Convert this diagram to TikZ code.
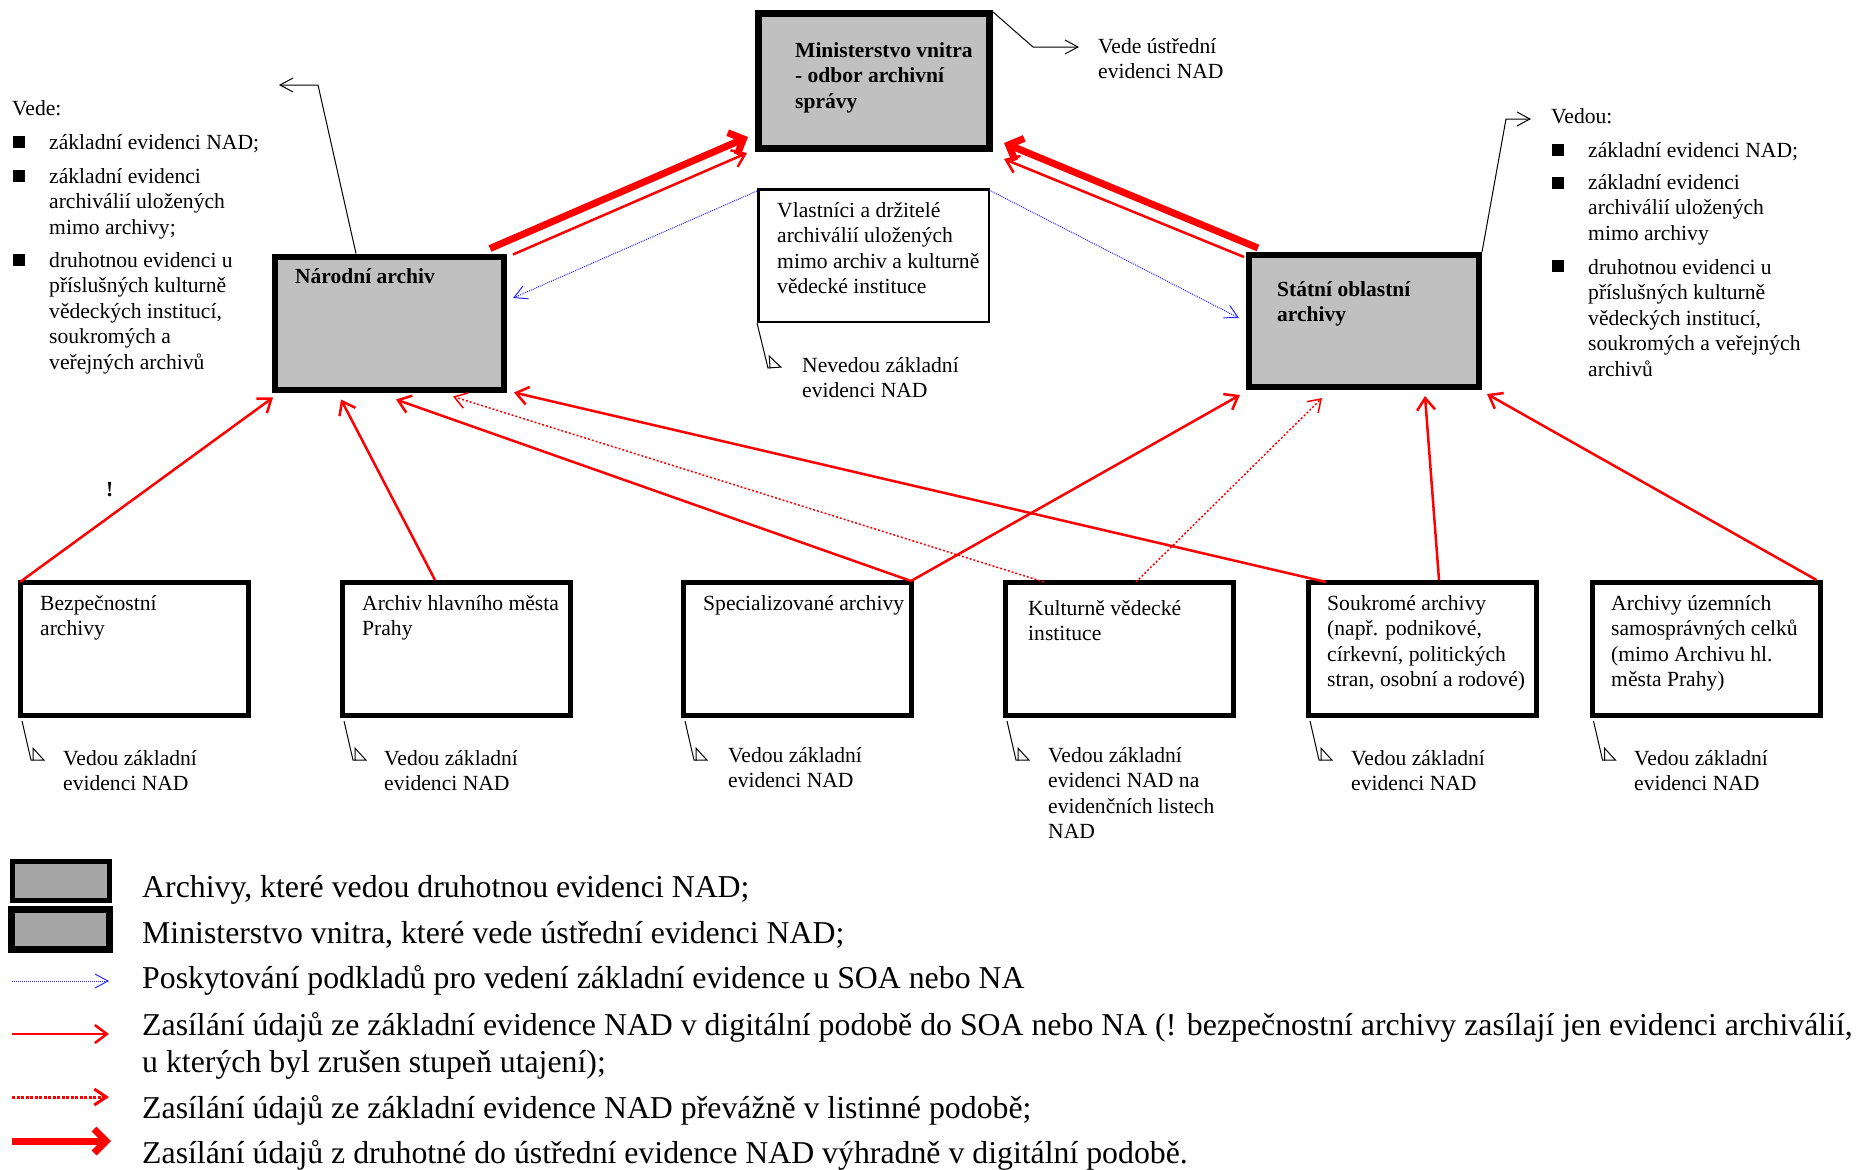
\documentclass[tikz,border=0pt]{standalone}
\usepackage{fontspec}
\setmainfont{Liberation Serif}
\usetikzlibrary{arrows.meta}
\definecolor{boxgray}{RGB}{192,192,192}
\definecolor{leggray}{RGB}{166,166,166}
\definecolor{linkblue}{RGB}{40,40,255}
\newcommand{\mylines}[1]{\begin{tabular}[t]{@{}l@{}}#1\end{tabular}}
\begin{document}
\begin{tikzpicture}[x=1pt,y=-1pt,
  txt/.style={anchor=base west, inner sep=0pt, font=\fontsize{21.6}{25.5}\selectfont},
  btxt/.style={anchor=base west, inner sep=0pt, font=\fontsize{21.5}{25.5}\selectfont\bfseries},
  legtxt/.style={anchor=base west, inner sep=0pt, font=\fontsize{31.8}{37}\selectfont},
  graybox/.style={draw, fill=boxgray, line width=6pt, inner sep=0pt, minimum width=229pt, minimum height=133pt},
  whitebox/.style={draw, fill=white, line width=5pt, inner sep=0pt, minimum width=228pt, minimum height=133pt},
  bul/.style={fill=black, inner sep=0pt, minimum size=12pt},
  redarr/.style={draw=red, line width=2.5pt, -{Straight Barb[length=12pt,width=18pt]}},
  reddot/.style={draw=red, line width=1.5pt, dash pattern=on 2pt off 2pt, -{Straight Barb[length=12pt,width=16pt]}},
  thickred/.style={draw=red, line width=7pt, -{Straight Barb[length=12pt,width=24pt]}},
  bluedot/.style={draw=linkblue, line width=1pt, dash pattern=on 1pt off 1pt, -{Straight Barb[length=13pt,width=14pt]}},
  callout/.style={draw=black, line width=1pt, -{Straight Barb[length=13pt,width=14pt]}},
  lowcall/.style={draw=black, line width=1pt, -{Triangle[open, harpoon, length=12pt, width=26pt]}}
]
\useasboundingbox (0,0) rectangle (1861,1170);
\fill[white] (0,0) rectangle (1861,1170);

% main boxes
\node[graybox, line width=7pt, minimum width=231pt, minimum height=135pt] (mv) at (874,81) {};
\node[graybox] (na) at (389.5,323) {};
\node[graybox, minimum width=230pt, minimum height=132pt] (soa) at (1364,321) {};
\node[draw, fill=white, line width=2.5pt, inner sep=0pt, minimum width=230.5pt, minimum height=132.5pt] (vl) at (873.5,255.5) {};

% bottom boxes
\node[whitebox] (bezp) at (134.5,649) {};
\node[whitebox] (arch) at (456.5,649) {};
\node[whitebox] (spec) at (797.5,649) {};
\node[whitebox] (kult) at (1119.5,649) {};
\node[whitebox] (souk) at (1422.5,649) {};
\node[whitebox] (uzem) at (1706,649) {};

% box texts
\node[btxt] (mvt) at (795,57) {\mylines{Ministerstvo vnitra\\- odbor archivní\\správy}};
\node[btxt] (nat) at (295,283) {Národní archiv};
\node[btxt] (soat) at (1277,296) {\mylines{Státní oblastní\\archivy}};
\node[txt] (vlt) at (777,217) {\mylines{Vlastníci a držitelé\\archiválií uložených\\mimo archiv a kulturně\\vědecké instituce}};
\node[txt] (bezpt) at (40,610) {\mylines{Bezpečnostní\\archivy}};
\node[txt] (archt) at (362,610) {\mylines{Archiv hlavního města\\Prahy}};
\node[txt] (spect) at (703,610) {Specializované archivy};
\node[txt] (kultt) at (1028,615) {\mylines{Kulturně vědecké\\instituce}};
\node[txt] (soukt) at (1327,610) {\mylines{Soukromé archivy\\(např. podnikové,\\církevní, politických\\stran, osobní a rodové)}};
\node[txt] (uzemt) at (1611,610) {\mylines{Archivy územních\\samosprávných celků\\(mimo Archivu hl.\\města Prahy)}};
\node[btxt] (excl) at (106,496) {!};

% left list
\node[txt] (vede) at (12,115) {Vede:};
\node[bul] (lb1) at (19,142) {};
\node[bul] (lb2) at (19,176) {};
\node[bul] (lb3) at (19,260) {};
\node[txt] (l1) at (49,149) {základní evidenci NAD;};
\node[txt] (l2) at (49,183) {\mylines{základní evidenci\\archiválií uložených\\mimo archivy;}};
\node[txt] (l3) at (49,267) {\mylines{druhotnou evidenci u\\příslušných kulturně\\vědeckých institucí,\\soukromých a\\veřejných archivů}};

% right list
\node[txt] (vedou) at (1551,123) {Vedou:};
\node[bul] (rb1) at (1557.5,150) {};
\node[bul] (rb2) at (1557.5,182.5) {};
\node[bul] (rb3) at (1557.5,266) {};
\node[txt] (r1) at (1588,157) {základní evidenci NAD;};
\node[txt] (r2) at (1588,189) {\mylines{základní evidenci\\archiválií uložených\\mimo archivy}};
\node[txt] (r3) at (1588,274) {\mylines{druhotnou evidenci u\\příslušných kulturně\\vědeckých institucí,\\soukromých a veřejných\\archivů}};

% callout texts
\node[txt] (mvc) at (1098,53) {\mylines{Vede ústřední\\evidenci NAD}};
\node[txt] (vlc) at (802,372) {\mylines{Nevedou základní\\evidenci NAD}};
\node[txt] (bezpc) at (63,765) {\mylines{Vedou základní\\evidenci NAD}};
\node[txt] (archc) at (384,765) {\mylines{Vedou základní\\evidenci NAD}};
\node[txt] (specc) at (728,762) {\mylines{Vedou základní\\evidenci NAD}};
\node[txt] (kultc) at (1048,762) {\mylines{Vedou základní\\evidenci NAD na\\evidenčních listech\\NAD}};
\node[txt] (soukc) at (1351,765) {\mylines{Vedou základní\\evidenci NAD}};
\node[txt] (uzemc) at (1634,765) {\mylines{Vedou základní\\evidenci NAD}};

% callout lines
\coordinate (nabend) at (318,85);
\coordinate (natip) at (279,85);
\draw[callout] ([xshift=-33.5pt]na.north) -- (nabend) -- (natip);
\coordinate (mvbend) at (1033,47);
\coordinate (mvtip) at (1079,47);
\draw[callout] ([shift={(0,2)}]mv.north east) -- (mvbend) -- (mvtip);
\coordinate (soabend) at (1506,119);
\coordinate (soatip) at (1531,119);
\draw[callout] (soa.north east) -- (soabend) -- (soatip);
\draw[lowcall] (vl.south west) -- ([shift={(11,45)}]vl.south west) -- ([shift={(25,44)}]vl.south west);
\foreach \b in {bezp,arch,spec,kult,souk,uzem}{
  \draw[lowcall] ([shift={(4,3)}]\b.south west) -- ([shift={(13,42)}]\b.south west) -- ([shift={(27,42)}]\b.south west);
}

% top arrows
\draw[thickred] ([shift={(-17,-5)}]na.north east) -- ([shift={(-7,-15)}]mv.south west);
\draw[redarr] ([shift={(6,1)}]na.north east) -- ([shift={(-8,1)}]mv.south west);
\draw[thickred] ([shift={(12,-4)}]soa.north west) -- ([shift={(11,-9)}]mv.south east);
\draw[redarr] ([shift={(-2,5)}]soa.north west) -- ([shift={(11,7)}]mv.south east);
\draw[bluedot] ([shift={(0,3)}]vl.north west) -- ([shift={(6,-25)}]na.east);
\draw[bluedot] ([shift={(-1,2)}]vl.north east) -- ([shift={(-7,-3)}]soa.west);

% bottom arrows
\draw[redarr] ([shift={(2,2)}]bezp.north west) -- ([shift={(1,5)}]na.south west);
\draw[redarr] ([shift={(-21.5,0)}]arch.north) -- ([shift={(69,7)}]na.south west);
\draw[redarr] ([shift={(-3,1)}]spec.north east) -- ([shift={(124,7)}]na.south west);
\draw[reddot] ([shift={(41,2)}]kult.north west) -- ([shift={(181,4)}]na.south west);
\draw[redarr] ([shift={(20,2)}]souk.north west) -- ([shift={(7,0)}]na.south east);
\draw[redarr] ([shift={(-3,1)}]spec.north east) -- ([shift={(-6,5)}]soa.south west);
\draw[reddot] ([shift={(133,2)}]kult.north west) -- ([shift={(76,8)}]soa.south west);
\draw[redarr] ([shift={(133,0)}]souk.north west) -- ([shift={(179,6)}]soa.south west);
\draw[redarr] ([shift={(-6,0)}]uzem.north east) -- ([shift={(5,4)}]soa.south east);

% legend
\node[draw, fill=leggray, line width=5pt, inner sep=0pt, minimum width=97pt, minimum height=39pt] (lgbox1) at (61,881) {};
\node[draw, fill=leggray, line width=7pt, inner sep=0pt, minimum width=98pt, minimum height=40pt] (lgbox2) at (60.5,929.5) {};
\coordinate (lga1) at (12,981); \coordinate (lga2) at (109,981);
\coordinate (lgb1) at (12,1034); \coordinate (lgb2) at (109,1034);
\coordinate (lgc1) at (12,1097); \coordinate (lgc2) at (109,1097);
\coordinate (lgd1) at (12,1141); \coordinate (lgd2) at (111,1141);
\draw[bluedot] (lga1) -- (lga2);
\draw[redarr] (lgb1) -- (lgb2);
\draw[reddot, line width=3pt, dash pattern=on 3pt off 1.5pt] (lgc1) -- (lgc2);
\draw[thickred] (lgd1) -- (lgd2);
\node[legtxt] (lt1) at (142,897) {Archivy, které vedou druhotnou evidenci NAD;};
\node[legtxt] (lt2) at (142,943) {Ministerstvo vnitra, které vede ústřední evidenci NAD;};
\node[legtxt] (lt3) at (142,988) {Poskytování podkladů pro vedení základní evidence u SOA nebo NA};
\node[legtxt] (lt4) at (142,1035) {\mylines{Zasílání údajů ze základní evidence NAD v digitální podobě do SOA nebo NA (! bezpečnostní archivy zasílají jen evidenci archiválií,\\u kterých byl zrušen stupeň utajení);}};
\node[legtxt] (lt5) at (142,1118) {Zasílání údajů ze základní evidence NAD převážně v listinné podobě;};
\node[legtxt] (lt6) at (142,1163) {Zasílání údajů z druhotné do ústřední evidence NAD výhradně v digitální podobě.};
\end{tikzpicture}
\end{document}
